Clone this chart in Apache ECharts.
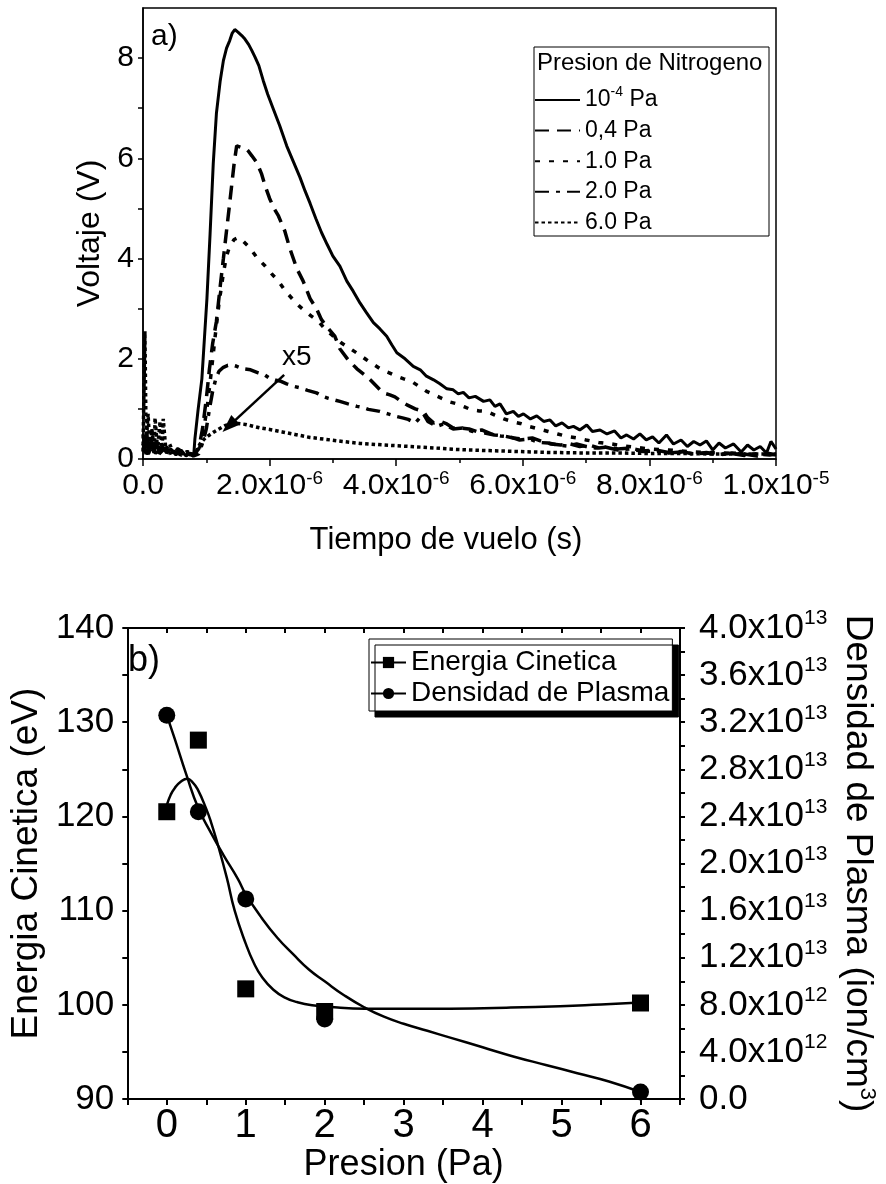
<!DOCTYPE html>
<html><head><meta charset="utf-8">
<script src="https://cdn.jsdelivr.net/npm/echarts@6/dist/echarts.min.js"></script>
<style>html,body{margin:0;padding:0;background:#fff}#c{width:886px;height:1184px}</style>
</head><body><div id="c"></div>
<script>
const FONT = '"Liberation Sans", Arial, Helvetica, sans-serif';

// ---------- Panel a): time of flight (t in microseconds), voltage in V ----------
const timeTickLabels = [['0.0',''],['2.0x10','-6'],['4.0x10','-6'],['6.0x10','-6'],['8.0x10','-6'],['1.0x10','-5']];
const voltTickValues = [0,1,2,3,4,5,6,7,8];
const voltLabelValues = [0,2,4,6,8];
const pressureNames = ['10-4 Pa','0,4 Pa','1.0 Pa','2.0 Pa','6.0 Pa'];

const v_1e4 = [[0,0.5],[0.03,0.15],[0.06,0.55],[0.09,0.1],[0.13,0.4],[0.17,0.12],[0.21,0.35],[0.26,0.1],[0.31,0.25],[0.37,0.12],[0.44,0.2],[0.52,0.08],[0.6,0.18],[0.68,0.06],[0.75,0.12],[0.8,0.05],
[0.82,0.4],[0.87,0.98],[0.93,1.6],[0.97,2.4],[1.01,3.2],[1.06,4.5],[1.11,5.9],[1.16,6.9],[1.22,7.55],[1.27,7.95],[1.32,8.2],[1.37,8.35],[1.41,8.5],[1.45,8.57],[1.5,8.52],[1.56,8.45],[1.61,8.38],[1.67,8.27],[1.72,8.15],[1.77,8.02],[1.83,7.85],[1.9,7.55],[1.97,7.28],[2.06,6.98],[2.16,6.65],[2.27,6.25],[2.38,5.92],[2.48,5.62],[2.56,5.35],[2.64,5.1],[2.73,4.8],[2.82,4.52],[2.91,4.28],[3.0,4.05],[3.11,3.85],[3.22,3.55],[3.32,3.35],[3.43,3.11],[3.53,2.92],[3.64,2.72],[3.74,2.6],[3.85,2.45],[3.93,2.28],[4.01,2.12],[4.14,2.0],[4.27,1.85],[4.38,1.78],[4.47,1.66],[4.59,1.58],[4.69,1.5],[4.8,1.4],[4.9,1.38],[4.98,1.3],[5.06,1.33],[5.15,1.22],[5.25,1.25],[5.38,1.15],[5.48,1.18],[5.56,1.05],[5.64,1.1],[5.74,0.9],[5.85,0.95],[5.93,0.85],[6.01,0.9],[6.12,0.8],[6.22,0.86],[6.33,0.75],[6.43,0.78],[6.52,0.66],[6.62,0.72],[6.72,0.62],[6.8,0.65],[6.9,0.58],[7.01,0.68],[7.1,0.55],[7.22,0.58],[7.33,0.5],[7.45,0.56],[7.55,0.42],[7.64,0.48],[7.75,0.4],[7.85,0.5],[7.95,0.38],[8.05,0.44],[8.15,0.32],[8.27,0.48],[8.38,0.3],[8.5,0.38],[8.6,0.25],[8.7,0.35],[8.8,0.28],[8.9,0.36],[9.0,0.18],[9.1,0.32],[9.2,0.22],[9.33,0.3],[9.45,0.14],[9.55,0.28],[9.65,0.18],[9.75,0.25],[9.85,0.12],[9.92,0.35],[10.0,0.2]];

const v_04 = [[0,0.3],[0.05,0.1],[0.1,0.25],[0.2,0.12],[0.3,0.2],[0.4,0.1],[0.5,0.15],[0.6,0.08],[0.7,0.12],[0.8,0.08],
[0.88,0.2],[0.94,0.6],[1.0,1.2],[1.05,1.8],[1.1,2.3],[1.16,2.75],[1.22,3.45],[1.27,4.0],[1.31,4.45],[1.36,5.0],[1.4,5.45],[1.44,5.9],[1.48,6.25],[1.55,6.22],[1.62,6.2],[1.66,6.15],[1.72,6.05],[1.8,5.91],[1.87,5.7],[1.93,5.45],[2.0,5.2],[2.07,5.0],[2.14,4.85],[2.24,4.55],[2.32,4.2],[2.43,3.8],[2.53,3.55],[2.64,3.2],[2.74,3.0],[2.82,2.78],[2.93,2.6],[3.03,2.45],[3.11,2.2],[3.24,1.98],[3.38,1.8],[3.5,1.68],[3.59,1.58],[3.69,1.45],[3.79,1.32],[3.9,1.28],[3.98,1.24],[4.08,1.15],[4.17,1.08],[4.3,1.0],[4.43,0.95],[4.5,0.82],[4.59,0.72],[4.7,0.75],[4.8,0.7],[4.9,0.62],[5.0,0.62],[5.15,0.6],[5.27,0.55],[5.4,0.52],[5.55,0.48],[5.7,0.46],[5.85,0.42],[6.0,0.4],[6.15,0.42],[6.3,0.35],[6.45,0.3],[6.6,0.28],[6.75,0.3],[6.9,0.25],[7.05,0.28],[7.2,0.22],[7.35,0.24],[7.5,0.2],[7.7,0.22],[7.9,0.16],[8.1,0.18],[8.3,0.13],[8.5,0.15],[8.7,0.1],[8.9,0.13],[9.1,0.08],[9.3,0.12],[9.5,0.1],[9.7,0.06],[9.85,0.12],[10,0.08]];

const v_10 = [[0,0.2],[0.1,0.35],[0.2,0.1],[0.3,0.3],[0.4,0.12],[0.55,0.2],[0.7,0.08],[0.82,0.1],
[0.88,0.15],[0.95,0.5],[1.02,1.1],[1.08,1.75],[1.14,2.45],[1.2,3.1],[1.27,3.71],[1.32,4.05],[1.37,4.25],[1.44,4.38],[1.51,4.42],[1.58,4.35],[1.69,4.21],[1.8,4.02],[1.93,3.85],[2.03,3.7],[2.14,3.55],[2.25,3.35],[2.37,3.18],[2.47,3.05],[2.56,2.95],[2.66,2.85],[2.77,2.75],[2.87,2.6],[2.98,2.48],[3.13,2.32],[3.3,2.18],[3.42,2.08],[3.53,1.98],[3.65,1.88],[3.77,1.78],[3.89,1.72],[4.01,1.65],[4.12,1.6],[4.24,1.55],[4.36,1.45],[4.48,1.35],[4.6,1.28],[4.72,1.21],[4.84,1.14],[4.96,1.1],[5.08,1.04],[5.19,0.98],[5.31,0.96],[5.43,0.95],[5.55,0.88],[5.7,0.8],[5.85,0.74],[5.96,0.71],[6.1,0.65],[6.25,0.6],[6.4,0.55],[6.55,0.5],[6.7,0.45],[6.85,0.42],[7.0,0.38],[7.2,0.33],[7.4,0.3],[7.6,0.26],[7.8,0.23],[8.0,0.2],[8.3,0.18],[8.6,0.15],[8.9,0.13],[9.2,0.12],[9.5,0.1],[9.8,0.1],[10,0.09]];

const v_20 = [[0,0.25],[0.08,0.1],[0.16,0.3],[0.25,0.1],[0.35,0.22],[0.5,0.1],[0.65,0.15],[0.8,0.06],
[0.88,0.1],[0.95,0.35],[1.0,0.6],[1.05,1.0],[1.1,1.35],[1.15,1.6],[1.2,1.75],[1.27,1.83],[1.34,1.87],[1.4,1.88],[1.48,1.85],[1.58,1.8],[1.7,1.78],[1.82,1.72],[1.92,1.68],[2.0,1.61],[2.1,1.57],[2.18,1.55],[2.27,1.5],[2.38,1.45],[2.48,1.42],[2.6,1.37],[2.74,1.32],[2.84,1.25],[2.93,1.21],[3.02,1.18],[3.11,1.15],[3.24,1.1],[3.38,1.05],[3.47,1.03],[3.56,0.99],[3.65,0.97],[3.74,0.95],[3.87,0.9],[4.0,0.85],[4.1,0.82],[4.19,0.79],[4.3,0.72],[4.43,0.9],[4.5,0.75],[4.64,0.65],[4.75,0.7],[4.9,0.6],[5.05,0.62],[5.2,0.55],[5.35,0.58],[5.5,0.5],[5.65,0.46],[5.8,0.44],[5.95,0.38],[6.1,0.4],[6.25,0.33],[6.4,0.32],[6.55,0.28],[6.7,0.26],[6.85,0.3],[7.0,0.25],[7.15,0.22],[7.3,0.24],[7.5,0.18],[7.7,0.2],[7.9,0.15],[8.1,0.16],[8.3,0.12],[8.5,0.14],[8.7,0.1],[8.9,0.12],[9.1,0.09],[9.3,0.11],[9.5,0.07],[9.7,0.1],[9.9,0.08],[10,0.1]];

const v_60 = [[0,0.15],[0.03,2.55],[0.05,0.3],[0.08,0.9],[0.11,0.2],[0.14,0.6],[0.18,0.15],[0.19,0.82],[0.23,0.2],[0.27,0.75],[0.3,0.15],[0.32,0.8],[0.36,0.2],[0.42,0.3],[0.48,0.12],[0.55,0.2],[0.62,0.1],[0.7,0.15],[0.78,0.08],
[0.84,0.15],[0.9,0.3],[0.97,0.4],[1.04,0.47],[1.12,0.54],[1.2,0.6],[1.3,0.67],[1.4,0.7],[1.5,0.71],[1.62,0.69],[1.72,0.66],[1.85,0.62],[2.0,0.59],[2.2,0.54],[2.4,0.49],[2.64,0.43],[2.9,0.39],[3.15,0.35],[3.43,0.31],[3.8,0.28],[4.22,0.25],[4.6,0.22],[4.96,0.19],[5.4,0.17],[5.9,0.15],[6.43,0.13],[7.0,0.12],[7.5,0.12],[8.0,0.11],[8.5,0.11],[9.0,0.1],[9.5,0.1],[10.0,0.1]];

const arrowStart = [2.23, 1.68];
const arrowEnd = [1.36, 0.66];

// ---------- Panel b): kinetic energy and plasma density vs pressure ----------
const presion = [0, 0.4, 1, 2, 6];
const energiaCinetica = [120.5, 128.1, 101.7, 99.3, 100.2];
const densidadPlasma = [3.26e13, 2.44e13, 1.70e13, 6.8e12, 6e11];
const energiaFit = [[0,121.2],[0.05,122.3],[0.1,123.0],[0.18,123.7],[0.26,124.0],[0.33,123.6],[0.39,122.9],[0.5,120.8],[0.56,119.4],[0.64,117.2],[0.76,113.5],[0.86,110.0],[1.0,106.5],[1.1,104.5],[1.21,102.9],[1.35,101.6],[1.49,100.8],[1.65,100.3],[1.84,99.97],[2.2,99.7],[2.54,99.6],[3.0,99.58],[3.58,99.6],[4.3,99.7],[4.98,99.86],[5.5,100.05],[6.0,100.24]];
const densidadFit = [[0,3.26e13],[0.1,3.06e13],[0.25,2.75e13],[0.4,2.47e13],[0.56,2.26e13],[0.72,2.07e13],[0.9,1.87e13],[1.0,1.74e13],[1.2,1.54e13],[1.4,1.37e13],[1.6,1.23e13],[1.8,1.1e13],[2.0,1.0e13],[2.25,8.8e12],[2.5,7.8e12],[2.75,7.0e12],[3.0,6.4e12],[3.3,5.8e12],[3.6,5.2e12],[4.0,4.4e12],[4.4,3.6e12],[4.8,2.9e12],[5.2,2.2e12],[5.6,1.5e12],[6.0,6e11]];
const presionTickValues = [-0.5,0,0.5,1,1.5,2,2.5,3,3.5,4,4.5,5,5.5,6,6.5];
const presionLabelValues = [0,1,2,3,4,5,6];
const energiaTickValues = [90,95,100,105,110,115,120,125,130,135,140];
const energiaLabelValues = [90,100,110,120,130,140];
const densidadTickValues = [0,2e12,4e12,6e12,8e12,1e13,1.2e13,1.4e13,1.6e13,1.8e13,2e13,2.2e13,2.4e13,2.6e13,2.8e13,3e13,3.2e13,3.4e13,3.6e13,3.8e13,4e13];
const densidadLabelValues = [0,4e12,8e12,1.2e13,1.6e13,2e13,2.4e13,2.8e13,3.2e13,3.6e13,4e13];
const densidadTickLabels = [['0.0',''],['4.0x10','12'],['8.0x10','12'],['1.2x10','13'],['1.6x10','13'],['2.0x10','13'],['2.4x10','13'],['2.8x10','13'],['3.2x10','13'],['3.6x10','13'],['4.0x10','13']];

// ---------- chart ----------
const chart = echarts.init(document.getElementById('c'), null, {renderer: 'canvas'});
const black = '#000';
const axisLine = w => ({show: true, onZero: false, lineStyle: {color: black, width: w}});

function topSeries(name, data, dash, width) {
  return {type: 'line', name: name, xAxisIndex: 0, yAxisIndex: 0, data: data,
    symbol: 'none', showSymbol: false, animation: false, silent: true,
    lineStyle: {color: black, width: width, type: dash, cap: 'butt'}, itemStyle: {color: black}};
}

const s60 = topSeries(pressureNames[4], v_60, [3.5, 3], 3.5);
s60.markLine = {silent: true, animation: false, symbol: ['none', 'triangle'], symbolSize: [13, 18],
  label: {show: false}, lineStyle: {color: black, width: 2.5, type: 'solid'},
  data: [[{coord: arrowStart}, {coord: arrowEnd}]]};

const option = {
  animation: false,
  backgroundColor: '#fff',
  textStyle: {fontFamily: FONT, color: black},
  grid: [
    {left: 143, top: 8, width: 633, height: 451, show: true, borderColor: black, borderWidth: 1.5, backgroundColor: 'transparent'},
    {left: 121, top: 628, width: 567, height: 475, show: false}
  ],
  xAxis: [
    {gridIndex: 0, type: 'value', min: 0, max: 10, interval: 2, position: 'bottom',
     axisLine: axisLine(1.5),
     axisTick: {show: true, inside: false, length: 7, lineStyle: {color: black, width: 1.5}},
     minorTick: {show: true, splitNumber: 2, length: 4, lineStyle: {color: black, width: 1.5}},
     splitLine: {show: false}, minorSplitLine: {show: false},
     axisLabel: {margin: 10, color: black, fontFamily: FONT,
       formatter: v => { const p = timeTickLabels[Math.round(v / 2)]; return p[1] ? '{a|' + p[0] + '}{s|' + p[1] + '}' : '{a|' + p[0] + '}'; },
       rich: {a: {fontSize: 30, lineHeight: 34, fontFamily: FONT, color: black}, s: {fontSize: 19, lineHeight: 14, verticalAlign: 'top', fontFamily: FONT, color: black}}},
     name: 'Tiempo de vuelo (s)', nameLocation: 'middle', nameGap: 66,
     nameTextStyle: {fontSize: 31, fontFamily: FONT, color: black, padding: [0, 27, 0, 0]}},
    {gridIndex: 1, type: 'value', min: -0.5, max: 6.5, position: 'bottom',
     axisLine: axisLine(2),
     axisTick: {show: true, inside: false, length: 6, customValues: presionTickValues, lineStyle: {color: black, width: 2}},
     splitLine: {show: false},
     axisLabel: {customValues: presionLabelValues, margin: 7, fontSize: 40, fontFamily: FONT, color: black, formatter: v => String(v)},
     name: 'Presion (Pa)', nameLocation: 'middle', nameGap: 37,
     nameTextStyle: {fontSize: 36, fontFamily: FONT, color: black}},
    {gridIndex: 1, type: 'value', min: -0.5, max: 6.5, position: 'top',
     axisLine: axisLine(2),
     axisTick: {show: true, inside: true, length: 5, customValues: presionTickValues, lineStyle: {color: black, width: 2}},
     splitLine: {show: false}, axisLabel: {show: false}}
  ],
  yAxis: [
    {gridIndex: 0, type: 'value', min: 0, max: 9, position: 'left',
     axisLine: axisLine(1.5),
     axisTick: {show: true, inside: false, length: 5, customValues: voltTickValues, lineStyle: {color: black, width: 1.5}},
     splitLine: {show: false},
     axisLabel: {customValues: voltLabelValues, margin: 9, fontSize: 30, fontFamily: FONT, color: black, formatter: v => String(v)},
     name: 'Voltaje (V)', nameLocation: 'middle', nameGap: 33, nameRotate: 90,
     nameTextStyle: {fontSize: 32, fontFamily: FONT, color: black}},
    {gridIndex: 1, type: 'value', min: 90, max: 140, position: 'left',
     axisLine: axisLine(2),
     axisTick: {show: true, inside: false, length: 5, customValues: energiaTickValues, lineStyle: {color: black, width: 2}},
     splitLine: {show: false},
     axisLabel: {customValues: energiaLabelValues, margin: 13, fontSize: 35, fontFamily: FONT, color: black, formatter: v => String(v)},
     name: 'Energia Cinetica (eV)', nameLocation: 'middle', nameGap: 67, nameRotate: 90,
     nameTextStyle: {fontSize: 37, fontFamily: FONT, color: black}},
    {gridIndex: 1, type: 'value', min: 0, max: 4e13, position: 'right',
     axisLine: axisLine(2),
     axisTick: {show: true, inside: false, length: 5, customValues: densidadTickValues, lineStyle: {color: black, width: 2}},
     splitLine: {show: false},
     axisLabel: {customValues: densidadLabelValues, margin: 19, color: black, fontFamily: FONT,
       formatter: v => { const p = densidadTickLabels[Math.round(v / 4e12)]; return p[1] ? '{m|' + p[0] + '}{e|' + p[1] + '}' : '{m|' + p[0] + '}'; },
       rich: {m: {fontSize: 35, lineHeight: 40, fontFamily: FONT, color: black}, e: {fontSize: 21, lineHeight: 14, verticalAlign: 'top', fontFamily: FONT, color: black}}},
     name: '{n|Densidad de Plasma (ion/cm}{e|3}{n|)}', nameLocation: 'middle', nameGap: 156, nameRotate: -90,
     nameTextStyle: {fontFamily: FONT, color: black,
       rich: {n: {fontSize: 37, lineHeight: 42, fontFamily: FONT, color: black}, e: {fontSize: 22, lineHeight: 16, verticalAlign: 'top', fontFamily: FONT, color: black}}}}
  ],
  legend: [
    {left: 534, top: 85, orient: 'vertical', padding: 0, itemGap: 0.6, itemWidth: 45, itemHeight: 4,
     data: pressureNames, selectedMode: false,
     itemStyle: {opacity: 0},
     textStyle: {fontSize: 23, lineHeight: 30, fontFamily: FONT, color: black,
       rich: {a: {fontSize: 23, lineHeight: 30, fontFamily: FONT, color: black}, s: {fontSize: 14, lineHeight: 16, verticalAlign: 'top', fontFamily: FONT, color: black}}},
     formatter: n => n === pressureNames[0] ? '{a|10}{s|-4}{a| Pa}' : '{a|' + n + '}'},
    {left: 369, top: 639, orient: 'vertical', padding: [8, 3, 2, 1], itemGap: 0, itemWidth: 35, itemHeight: 14,
     data: ['Energia Cinetica', 'Densidad de Plasma'], selectedMode: false,
     backgroundColor: '#fff', borderColor: black, borderWidth: 1,
     shadowColor: black, shadowOffsetX: 6, shadowOffsetY: 6, shadowBlur: 0,
     itemStyle: {opacity: 1},
     textStyle: {fontSize: 28, lineHeight: 31, fontFamily: FONT, color: black}}
  ],
  graphic: [
    {type: 'rect', z: 1, shape: {x: 534, y: 47, width: 235, height: 189}, style: {fill: '#fff', stroke: black, lineWidth: 1}},
    {type: 'text', z: 2, x: 537, y: 63, style: {text: 'Presion de Nitrogeno', font: '24px ' + FONT, fill: black, verticalAlign: 'middle'}},
    {type: 'text', z: 2, x: 151, y: 37, style: {text: 'a)', font: '30px ' + FONT, fill: black, verticalAlign: 'middle'}},
    {type: 'text', z: 2, x: 282, y: 357, style: {text: 'x5', font: '28px ' + FONT, fill: black, verticalAlign: 'middle'}},
    {type: 'text', z: 2, x: 128, y: 661, style: {text: 'b)', font: '36px ' + FONT, fill: black, verticalAlign: 'middle'}}
  ],
  series: [
    topSeries(pressureNames[0], v_1e4, 'solid', 3),
    topSeries(pressureNames[1], v_04, [14, 8], 3.5),
    topSeries(pressureNames[2], v_10, [5, 9], 3.5),
    topSeries(pressureNames[3], v_20, [14, 7, 4, 7], 3.5),
    s60,
    {type: 'line', name: 'Energia Cinetica', xAxisIndex: 1, yAxisIndex: 1, data: energiaFit, smooth: true,
     symbol: 'rect', showSymbol: false, animation: false, silent: true,
     lineStyle: {color: black, width: 2.5}, itemStyle: {color: black, opacity: 1}},
    {type: 'line', name: 'Densidad de Plasma', xAxisIndex: 1, yAxisIndex: 2, data: densidadFit, smooth: true,
     symbol: 'circle', showSymbol: false, animation: false, silent: true,
     lineStyle: {color: black, width: 2.5}, itemStyle: {color: black, opacity: 1}},
    {type: 'scatter', name: 'Energia Cinetica', xAxisIndex: 1, yAxisIndex: 1,
     data: presion.map((p, i) => [p, energiaCinetica[i]]), symbol: 'rect', symbolSize: 17,
     itemStyle: {color: black, opacity: 1}, animation: false, silent: true, z: 3},
    {type: 'scatter', name: 'Densidad de Plasma', xAxisIndex: 1, yAxisIndex: 2,
     data: presion.map((p, i) => [p, densidadPlasma[i]]), symbol: 'circle', symbolSize: 17,
     itemStyle: {color: black, opacity: 1}, animation: false, silent: true, z: 3}
  ]
};
chart.setOption(option);
</script>
</body></html>
